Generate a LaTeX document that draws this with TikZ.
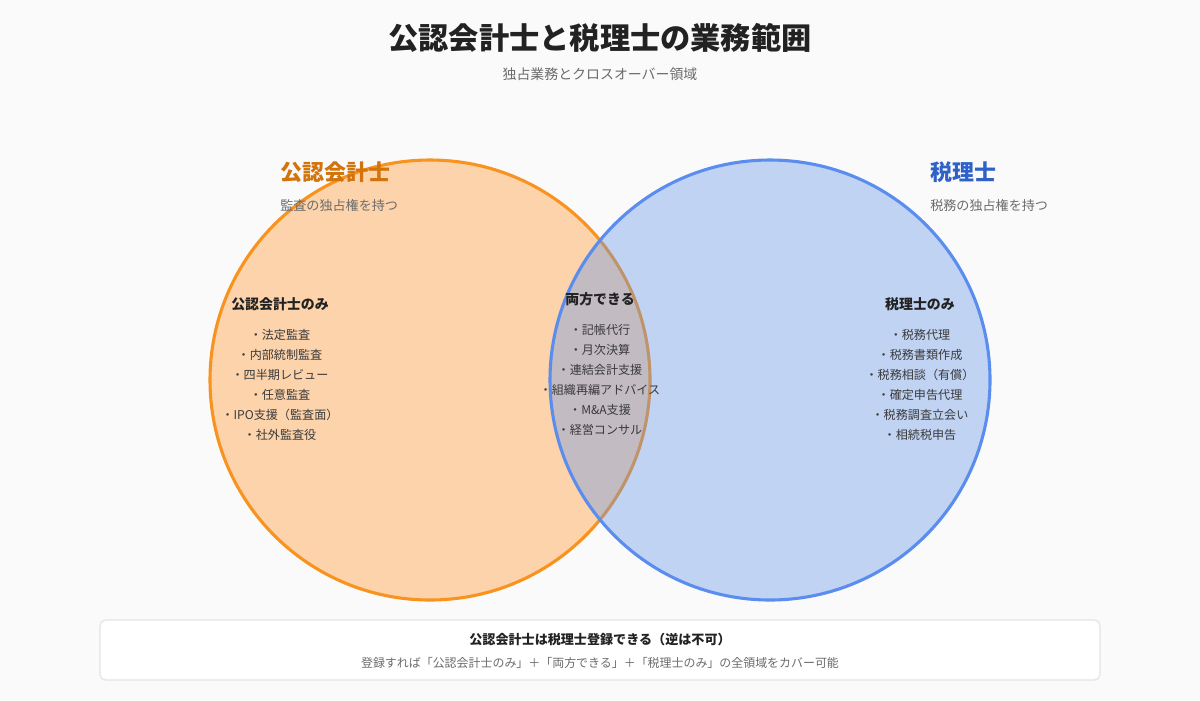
\documentclass[tikz,border=0pt]{standalone}
\usepackage{fontspec}
\setmainfont{Noto Sans CJK JP}

\definecolor{bggray}{HTML}{FAFAFA}
\definecolor{cpaorange}{HTML}{F7931E}
\definecolor{cpafill}{HTML}{FF9933}
\definecolor{cpatext}{HTML}{D2740B}
\definecolor{taxblue}{HTML}{5B8DEF}
\definecolor{taxfill}{HTML}{6696EA}
\definecolor{taxtext}{HTML}{2F62C8}
\definecolor{darktext}{HTML}{222222}
\definecolor{itemtext}{HTML}{3A3A3A}
\definecolor{subtext}{HTML}{6B6B6B}
\definecolor{boxline}{HTML}{E4E4E4}

\begin{document}
\begin{tikzpicture}[x=0.025cm,y=-0.025cm,every node/.style={inner sep=0pt},
                    head/.style={font=\fontsize{9.9}{12}\selectfont\bfseries,text=darktext},
                    item/.style={font=\fontsize{8.6}{10}\selectfont,text=itemtext},
                    note/.style={font=\fontsize{9.3}{11}\selectfont,text=subtext}]
%%%%%
\fill[bggray] (0,0) rectangle (1200,700);
\useasboundingbox (0,0) rectangle (1200,700);
%%%%% title
\node[font=\fontsize{21.5}{26}\selectfont\bfseries,text=darktext] (title) at (600,38) {公認会計士と税理士の業務範囲};
\node[note,font=\fontsize{9.9}{12}\selectfont] (subtitle) at (600,74) {独占業務とクロスオーバー領域};
%%%%% circles
\draw[cpaorange,line width=2.2pt,fill=cpafill,fill opacity=0.4] (430,380) circle (220);
\fill[taxfill,opacity=0.38] (770,380) circle (220);
\draw[taxblue,line width=2.2pt] (770,380) circle (220);
%%%%% headings
\node[anchor=west,font=\fontsize{15.6}{19}\selectfont\bfseries,text=cpatext] (cpa) at (280,172) {公認会計士};
\node[anchor=west,note] (cpanote) at (280,205) {監査の独占権を持つ};
\node[anchor=west,font=\fontsize{15.6}{19}\selectfont\bfseries,text=taxtext] (tax) at (930,172) {税理士};
\node[anchor=west,note] (taxnote) at (930,205) {税務の独占権を持つ};
%%%%% left only
\node[head] (cpaonly) at (280,304) {公認会計士のみ};
\node[item] (c1) at (280,335) {・法定監査};
\node[item] (c2) at (280,355) {・内部統制監査};
\node[item] (c3) at (280,375) {・四半期レビュー};
\node[item] (c4) at (280,395) {・任意監査};
\node[item] (c5) at (280,415) {・IPO支援（監査面）};
\node[item] (c6) at (280,435) {・社外監査役};
%%%%% both
\node[head] (both) at (600,299) {両方できる};
\node[item] (b1) at (600,330) {・記帳代行};
\node[item] (b2) at (600,350) {・月次決算};
\node[item] (b3) at (600,370) {・連結会計支援};
\node[item] (b4) at (600,390) {・組織再編アドバイス};
\node[item] (b5) at (600,410) {・M\&A支援};
\node[item] (b6) at (600,430) {・経営コンサル};
%%%%% right only
\node[head] (taxonly) at (920,304) {税理士のみ};
\node[item] (t1) at (920,335) {・税務代理};
\node[item] (t2) at (920,355) {・税務書類作成};
\node[item] (t3) at (920,375) {・税務相談（有償）};
\node[item] (t4) at (920,395) {・確定申告代理};
\node[item] (t5) at (920,415) {・税務調査立会い};
\node[item] (t6) at (920,435) {・相続税申告};
%%%%% bottom box
\draw[boxline,fill=white,line width=0.8pt,rounded corners=4] (100,620) rectangle (1100,680);
\node[head,font=\fontsize{9.3}{11}\selectfont\bfseries] (rule) at (600,640) {公認会計士は税理士登録できる（逆は不可）};
\node[note,font=\fontsize{8.5}{10}\selectfont] (ruledetail) at (600,663) {登録すれば「公認会計士のみ」＋「両方できる」＋「税理士のみ」の全領域をカバー可能};
\end{tikzpicture}
\end{document}
